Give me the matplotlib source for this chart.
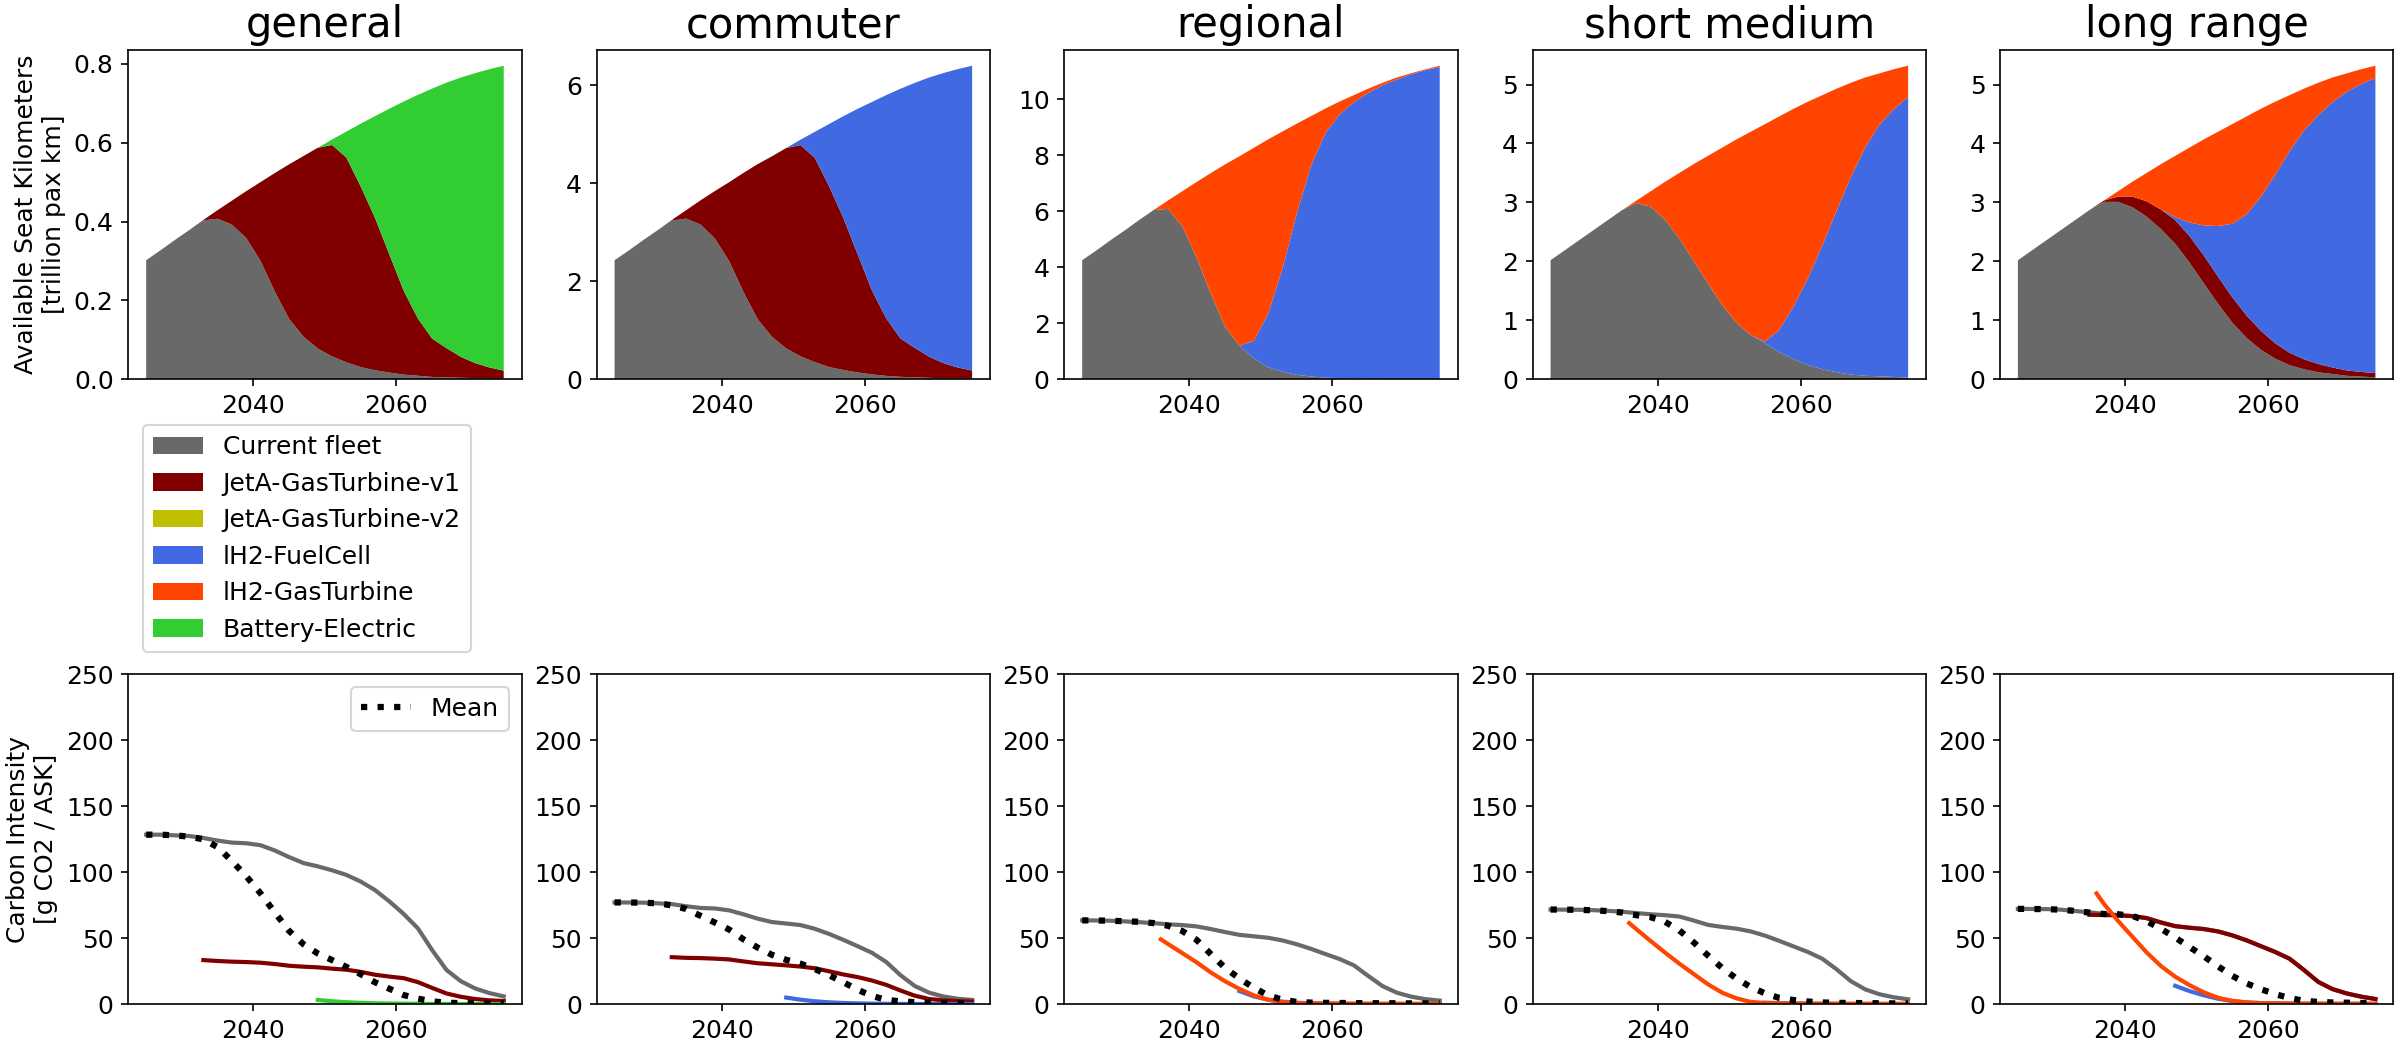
import matplotlib
matplotlib.use("Agg")
import matplotlib.pyplot as plt

plt.rcParams["font.size"] = 12

# ---------------- categories ----------------
segments = ["general", "commuter", "regional", "short medium", "long range"]
series_labels = ["Current fleet", "JetA-GasTurbine-v1", "JetA-GasTurbine-v2",
                 "lH2-FuelCell", "lH2-GasTurbine", "Battery-Electric"]
series_colors = ["dimgray", "maroon", "y", "royalblue", "orangered", "limegreen"]

years = [2025, 2027, 2029, 2031, 2033, 2035, 2037, 2039, 2041, 2043, 2045, 2047, 2049,
         2051, 2053, 2055, 2057, 2059, 2061, 2063, 2065, 2067, 2069, 2071, 2073, 2075]
zeros = [0.0] * 26

# ---------------- ASK (trillion pax km) ----------------
gen_cur = [0.302, 0.327, 0.353, 0.378, 0.403, 0.407, 0.392, 0.358, 0.300, 0.222, 0.153, 0.108, 0.078,
           0.058, 0.043, 0.031, 0.023, 0.017, 0.012, 0.009, 0.006, 0.005, 0.004, 0.003, 0.002, 0.002]
gen_v1 = [0, 0, 0, 0, 0.001, 0.022, 0.061, 0.119, 0.200, 0.301, 0.392, 0.458, 0.509,
          0.536, 0.519, 0.458, 0.386, 0.300, 0.213, 0.145, 0.097, 0.074, 0.053, 0.038, 0.028, 0.020]
gen_be = [0, 0, 0, 0, 0, 0, 0, 0, 0, 0, 0, 0, 0,
          0.014, 0.066, 0.159, 0.258, 0.369, 0.479, 0.567, 0.634, 0.673, 0.708, 0.735, 0.756, 0.773]

com_cur = [2.43, 2.63, 2.84, 3.04, 3.24, 3.28, 3.16, 2.88, 2.42, 1.79, 1.23, 0.87, 0.63,
           0.47, 0.35, 0.25, 0.19, 0.14, 0.10, 0.07, 0.05, 0.04, 0.03, 0.02, 0.02, 0.02]
com_v1 = [0, 0, 0, 0, 0.01, 0.17, 0.49, 0.96, 1.60, 2.42, 3.16, 3.68, 4.09,
          4.31, 4.17, 3.69, 3.10, 2.41, 1.71, 1.17, 0.78, 0.60, 0.43, 0.31, 0.22, 0.16]
com_fc = [0, 0, 0, 0, 0, 0, 0, 0, 0, 0, 0, 0, 0,
          0.11, 0.53, 1.27, 2.08, 2.97, 3.85, 4.56, 5.10, 5.41, 5.70, 5.92, 6.09, 6.22]

reg_cur = [4.25, 4.60, 4.97, 5.32, 5.69, 6.04, 6.08, 5.47, 4.35, 3.05, 1.87, 1.20, 0.75,
           0.43, 0.27, 0.16, 0.10, 0.06, 0.04, 0.03, 0.02, 0.012, 0.008, 0.005, 0.004, 0.003]
reg_fc = [0, 0, 0, 0, 0, 0, 0, 0, 0, 0, 0, 0, 0.62,
          1.90, 3.67, 5.74, 7.52, 8.72, 9.41, 9.86, 10.20, 10.48, 10.69, 10.875, 11.026, 11.147]
reg_gt = [0, 0, 0, 0, 0, 0, 0.30, 1.24, 2.69, 4.31, 5.80, 6.76, 6.89,
          6.23, 4.90, 3.22, 1.77, 0.88, 0.46, 0.25, 0.15, 0.088, 0.072, 0.04, 0.03, 0.04]

sm_cur = [2.02, 2.19, 2.36, 2.53, 2.70, 2.87, 2.99, 2.93, 2.71, 2.39, 2.01, 1.63, 1.26,
          0.96, 0.75, 0.61, 0.46, 0.34, 0.24, 0.17, 0.12, 0.08, 0.06, 0.05, 0.04, 0.03]
sm_fc = [0, 0, 0, 0, 0, 0, 0, 0, 0, 0, 0, 0, 0,
         0, 0, 0.03, 0.38, 0.90, 1.48, 2.10, 2.74, 3.35, 3.87, 4.27, 4.54, 4.76]
sm_gt = [0, 0, 0, 0, 0, 0, 0.04, 0.26, 0.64, 1.11, 1.64, 2.16, 2.67,
         3.11, 3.45, 3.69, 3.62, 3.35, 2.99, 2.55, 2.07, 1.60, 1.19, 0.87, 0.68, 0.53]

lr_cur = [2.02, 2.19, 2.36, 2.53, 2.70, 2.87, 3.01, 3.01, 2.92, 2.76, 2.55, 2.30, 1.98,
          1.63, 1.28, 0.96, 0.70, 0.50, 0.35, 0.24, 0.17, 0.12, 0.09, 0.06, 0.045, 0.035]
lr_v1 = [0, 0, 0, 0, 0, 0, 0.02, 0.09, 0.18, 0.26, 0.33, 0.40, 0.45,
         0.47, 0.46, 0.43, 0.38, 0.32, 0.26, 0.21, 0.17, 0.14, 0.11, 0.09, 0.08, 0.07]
lr_fc = [0, 0, 0, 0, 0, 0, 0, 0, 0, 0, 0, 0.05, 0.23,
         0.51, 0.86, 1.25, 1.72, 2.28, 2.86, 3.42, 3.88, 4.22, 4.50, 4.73, 4.885, 5.005]
lr_gt = [0, 0, 0, 0, 0, 0, 0, 0.09, 0.25, 0.48, 0.77, 1.04, 1.27,
         1.46, 1.60, 1.69, 1.66, 1.49, 1.24, 0.95, 0.71, 0.55, 0.42, 0.31, 0.25, 0.21]

ask_stacks = [
    [gen_cur, gen_v1, zeros, zeros, zeros, gen_be],
    [com_cur, com_v1, zeros, com_fc, zeros, zeros],
    [reg_cur, zeros, zeros, reg_fc, reg_gt, zeros],
    [sm_cur, zeros, zeros, sm_fc, sm_gt, zeros],
    [lr_cur, lr_v1, zeros, lr_fc, lr_gt, zeros],
]

# ---------------- Carbon intensity (g CO2 / ASK) ----------------
years_from_2033 = years[4:]
years_from_2035 = years[5:]
years_from_2047 = years[11:]
years_from_2049 = years[12:]
years_from_2055 = years[15:]
years_h2gt = [2036] + years[6:]

gen_ci_cur = [128.5, 128.5, 128.0, 127.5, 126.0, 124.0, 122.5, 122.0, 120.5, 116.5, 111.5, 107.0, 104.5,
              101.5, 98.0, 93.0, 86.5, 78.0, 68.5, 57.5, 41.0, 26.0, 17.5, 12.0, 8.5, 6.0]
gen_ci_v1 = [33.5, 32.8, 32.3, 32.0, 31.5, 30.5, 29.2, 28.5, 28.0, 27.0, 26.2, 24.6, 22.4,
             21.0, 19.8, 16.8, 12.4, 8.2, 5.7, 4.0, 3.0, 2.5]
gen_ci_be = [3.3, 2.3, 1.6, 1.1, 0.8, 0.6, 0.5, 0.4, 0.3, 0.3, 0.2, 0.2, 0.2, 0.2]
gen_ci_mean = [128.5, 128.5, 128.0, 127.0, 125.0, 119.0, 108.5, 97.0, 84.0, 69.5, 55.5, 45.5, 38.5,
               33.5, 28.3, 22.8, 16.7, 11.8, 7.0, 4.3, 2.2, 1.2, 0.9, 0.8, 0.7, 0.7]

com_ci_cur = [77.2, 77.1, 77.0, 76.5, 75.9, 74.3, 73.0, 72.6, 71.2, 68.2, 64.9, 62.3, 61.2,
              60.0, 57.2, 53.3, 48.8, 44.0, 39.0, 32.0, 22.0, 13.8, 8.8, 5.9, 4.2, 3.3]
com_ci_v1 = [35.7, 35.2, 35.0, 34.6, 34.0, 32.5, 31.1, 30.3, 29.5, 28.6, 27.3, 25.0, 22.6,
             20.6, 18.0, 14.7, 10.4, 6.5, 4.0, 3.0, 2.4, 2.0]
com_ci_fc = [5.1, 3.5, 2.3, 1.5, 1.0, 0.7, 0.5, 0.4, 0.3, 0.3, 0.2, 0.2, 0.2, 0.2]
com_ci_mean = [77.2, 77.1, 77.0, 76.5, 75.0, 72.2, 67.1, 62.0, 56.7, 49.3, 43.0, 37.5, 33.7,
               30.8, 26.7, 22.0, 16.7, 11.0, 6.3, 3.4, 2.2, 1.6, 1.2, 1.0, 0.9, 0.8]

reg_ci_cur = [63.6, 63.5, 63.3, 62.8, 62.2, 61.5, 60.6, 60.0, 59.0, 57.0, 54.7, 52.6, 51.5,
              50.4, 48.4, 45.5, 42.0, 38.1, 34.3, 29.5, 21.5, 13.8, 8.8, 5.8, 3.9, 2.8]
reg_ci_fc = [10.0, 6.0, 3.5, 2.0, 1.2, 0.8, 0.6, 0.5, 0.4, 0.4, 0.3, 0.3, 0.3, 0.3, 0.3]
reg_ci_gt = [49.2, 45.7, 38.8, 31.8, 24.1, 17.4, 11.6, 6.8, 3.5, 1.7, 1.0, 0.7, 0.6, 0.5, 0.5,
             0.4, 0.4, 0.4, 0.3, 0.3, 0.3]
reg_ci_mean = [63.6, 63.5, 63.3, 62.9, 62.5, 61.5, 59.5, 55.5, 48.8, 38.0, 27.5, 19.5, 12.5,
               6.8, 3.5, 1.8, 1.3, 1.1, 1.0, 0.9, 0.9, 0.8, 0.8, 0.7, 0.7, 0.7]

sm_ci_cur = [71.8, 71.7, 71.6, 71.3, 70.8, 70.1, 69.1, 68.2, 67.5, 66.5, 63.5, 60.2, 58.6,
             57.3, 55.2, 52.0, 48.0, 43.8, 39.6, 34.5, 26.5, 17.5, 11.3, 7.6, 5.3, 3.8]
sm_ci_fc = [1.2, 0.9, 0.7, 0.5, 0.4, 0.4, 0.3, 0.3, 0.3, 0.3, 0.3]
sm_ci_gt = [61.5, 56.9, 47.9, 39.2, 30.8, 23.0, 15.2, 8.8, 4.5, 1.8, 1.0, 0.7, 0.6, 0.5, 0.5,
            0.4, 0.4, 0.4, 0.3, 0.3, 0.3]
sm_ci_mean = [71.8, 71.7, 71.6, 71.2, 70.6, 69.5, 67.5, 66.0, 62.5, 56.0, 47.0, 37.0, 27.5,
              19.5, 13.0, 8.3, 4.8, 3.2, 2.1, 1.4, 1.1, 1.0, 0.9, 0.8, 0.7, 0.7]

lr_ci_cur = [72.3, 72.2, 72.1, 71.7, 70.7, 69.7, 68.5, 67.6, 66.8, 65.3, 62.0, 59.2, 58.0,
             57.0, 55.2, 52.2, 48.4, 44.0, 39.6, 34.5, 26.0, 17.0, 11.5, 8.2, 5.8, 4.0]
lr_ci_v1 = [67.8, 67.6, 67.4, 66.8, 65.3, 62.0, 59.2, 58.0, 57.0, 55.2, 52.2, 48.4, 44.0,
            39.6, 34.5, 26.0, 17.0, 11.5, 8.2, 5.8, 4.0]
lr_ci_fc = [14.0, 10.0, 6.8, 4.2, 2.4, 1.4, 0.9, 0.7, 0.6, 0.5, 0.5, 0.4, 0.4, 0.4, 0.4]
lr_ci_gt = [84.0, 76.3, 63.2, 51.3, 39.3, 29.0, 20.9, 14.5, 9.1, 4.9, 2.6, 1.4, 0.9, 0.7, 0.6,
            0.5, 0.5, 0.4, 0.4, 0.4, 0.4]
lr_ci_mean = [72.3, 72.2, 72.1, 71.7, 70.7, 69.5, 68.4, 68.2, 67.0, 63.0, 57.2, 50.6, 43.4,
              36.4, 28.7, 21.5, 15.8, 11.4, 7.7, 4.7, 2.7, 1.8, 1.4, 1.2, 1.0, 0.9]

# (series index, x, y) per panel
ci_lines = [
    [(0, years, gen_ci_cur), (1, years_from_2033, gen_ci_v1), (5, years_from_2049, gen_ci_be)],
    [(0, years, com_ci_cur), (1, years_from_2033, com_ci_v1), (3, years_from_2049, com_ci_fc)],
    [(0, years, reg_ci_cur), (3, years_from_2047, reg_ci_fc), (4, years_h2gt, reg_ci_gt)],
    [(0, years, sm_ci_cur), (3, years_from_2055, sm_ci_fc), (4, years_h2gt, sm_ci_gt)],
    [(0, years, lr_ci_cur), (1, years_from_2035, lr_ci_v1), (3, years_from_2047, lr_ci_fc),
     (4, years_h2gt, lr_ci_gt)],
]
ci_means = [gen_ci_mean, com_ci_mean, reg_ci_mean, sm_ci_mean, lr_ci_mean]

# ---------------- figure ----------------
W, H = 2400.0, 1050.0
fig = plt.figure(figsize=(16, 7), dpi=150)
lefts_px = [128.3, 596.7, 1064.3, 1532.7, 2000.0]
aw = 393.3 / W
top_bottom, top_h = 1 - 379.3 / H, 329.3 / H
bot_bottom, bot_h = 1 - 1004.3 / H, 330.0 / H

top_axes = []
for i, seg in enumerate(segments):
    ax = fig.add_axes([lefts_px[i] / W, top_bottom, aw, top_h])
    ax.stackplot(years, *ask_stacks[i], colors=series_colors, labels=series_labels)
    ax.set_title(seg, fontsize=20)
    ax.set_xticks([2040, 2060])
    top_axes.append(ax)
top_axes[0].set_ylabel("Available Seat Kilometers\n[trillion pax km]")

for i, seg in enumerate(segments):
    ax = fig.add_axes([lefts_px[i] / W, bot_bottom, aw, bot_h])
    for idx, xs, ys in ci_lines[i]:
        ax.plot(xs, ys, color=series_colors[idx], lw=2)
    ax.plot(years, ci_means[i], color="black", ls=":", lw=3, label="Mean")
    ax.set_ylim(0, 250)
    ax.set_xticks([2040, 2060])
    if i == 0:
        ax.set_ylabel("Carbon Intensity\n[g CO2 / ASK]")
        ax.legend(loc="upper right")

handles, labels = top_axes[0].get_legend_handles_labels()
fig.legend(handles, labels, loc="upper left", bbox_to_anchor=(142.7 / W, 1 - 425 / H),
           borderaxespad=0)

fig.savefig("out.png", dpi=150)
